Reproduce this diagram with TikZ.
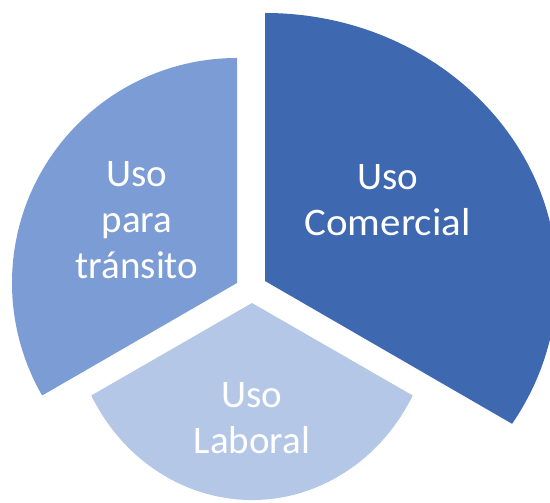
\documentclass[tikz,border=0pt]{standalone}
\usepackage{fontspec}
\setmainfont{Carlito}
\definecolor{comercial}{HTML}{3E68B0}
\definecolor{transito}{HTML}{7B9CD5}
\definecolor{laboral}{HTML}{B4C7E7}
\begin{document}
\begin{tikzpicture}[x=1pt,y=1pt,
    slice/.style={draw=none},
    pietext/.style={text=white,align=center,inner sep=0pt,
      font=\fontsize{39}{46}\selectfont}]
    \useasboundingbox (0,0) rectangle (550,503);
    \clip (0,0) rectangle (550,503);
    \coordinate (cCom) at (265,222);% apex of each slice
    \coordinate (cTra) at (237,220);
    \coordinate (cLab) at (252,200);
    \fill[slice,comercial] (cCom) -- ++(0,268)
        arc[start angle=90,end angle=-32.2,x radius=292,y radius=268] -- cycle;
    \fill[slice,transito] (cTra) -- ++(0,225)
        arc[start angle=90,end angle=210,radius=225] -- cycle;
    \fill[slice,laboral] (cLab) -- ++(-160.7,-92.5)
        arc[start angle=208,end angle=332,x radius=182,y radius=197] -- cycle;
    \node[pietext] (tCom) at (387.5,303.3) {Uso\\\scalebox{1.05}[1]{Comercial}};
    \node[pietext] (tTra) at (137,282.5) {Uso\\para\\tránsito};
    \node[pietext] (tLab) at (252,84.5) {Uso\\Laboral};
\end{tikzpicture}
\end{document}
